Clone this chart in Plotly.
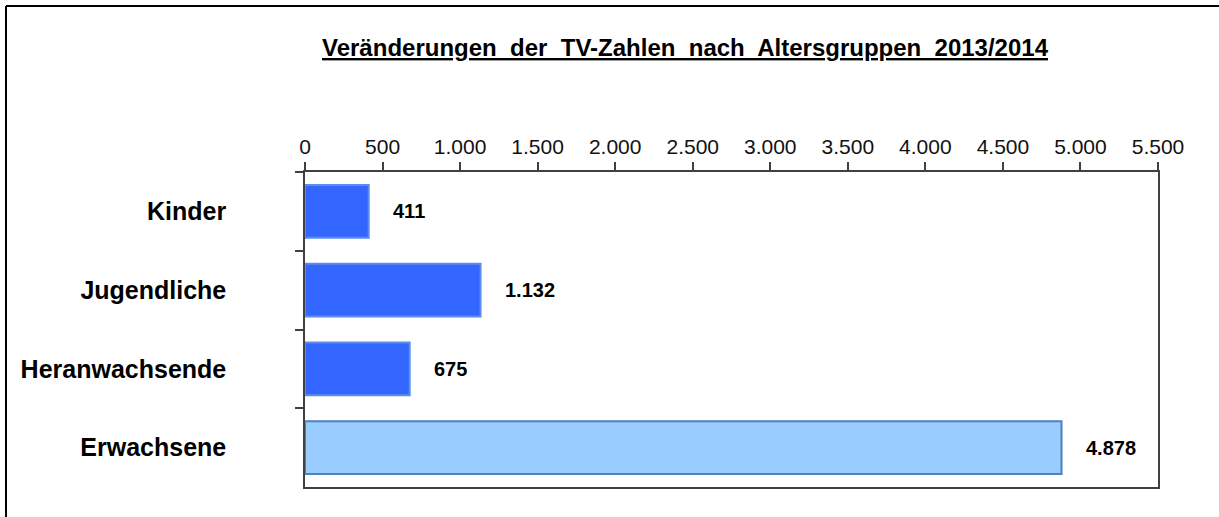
import plotly.graph_objects as go

gruppen = ['Kinder', 'Jugendliche', 'Heranwachsende', 'Erwachsene']
werte = [411, 1132, 675, 4878]
farben = ['#3366FF', '#3366FF', '#3366FF', '#99CCFF']
randfarben = ['#5B8DEF', '#5B8DEF', '#5B8DEF', '#4F81BD']
titel = 'Veränderungen  der  TV-Zahlen  nach  Altersgruppen  2013/2014'

W, H = 1219, 517
links, rechts, oben, unten = 305, 61, 172, 30
pw = W - links - rechts
ph = H - oben - unten

fig = go.Figure(go.Bar(
    x=werte, y=gruppen, orientation='h',
    marker=dict(color=farben, line=dict(color=randfarben, width=2)),
    hoverinfo='x+y',
))

# Datenbeschriftungen rechts neben den Balken
for g, v in zip(gruppen, werte):
    fig.add_annotation(x=v, y=g, text='<b>' + f'{v:,}'.replace(',', '.') + '</b>',
                       xanchor='left', yanchor='middle', xshift=22, showarrow=False,
                       font=dict(family='Liberation Sans, Arial', size=20, color='black'))

fig.add_annotation(xref='paper', yref='paper',
                   x=(685 - links) / pw, y=(H - unten - 47) / ph,
                   text='<b><u>' + titel + '</u></b>', showarrow=False,
                   xanchor='center', yanchor='middle',
                   font=dict(family='Liberation Sans, Arial', size=24, color='black'))

# äußerer Rahmen (links und oben)
x_rand = (6 - links) / pw
y_rand = (H - unten - 6) / ph
fig.add_shape(type='line', xref='paper', yref='paper', x0=x_rand, x1=x_rand,
              y0=y_rand, y1=-0.2, line=dict(color='black', width=2))
fig.add_shape(type='line', xref='paper', yref='paper', x0=x_rand, x1=(W - links) / pw + 0.05,
              y0=y_rand, y1=y_rand, line=dict(color='black', width=2))

fig.update_layout(
    width=W, height=H,
    margin=dict(l=links, r=rechts, t=oben, b=unten),
    paper_bgcolor='white', plot_bgcolor='white',
    separators=',.',
    bargap=0.33,
    showlegend=False,
    font=dict(family='Liberation Sans, Arial', color='black'),
)
fig.update_xaxes(side='top', range=[0, 5500], dtick=500, tickformat=',d',
                 showgrid=False, zeroline=False,
                 showline=True, linecolor='#404040', linewidth=1.5, mirror=True,
                 ticks='outside', ticklen=8, tickcolor='#404040', tickwidth=1.5,
                 tickfont=dict(size=21, color='#111111'))
fig.update_yaxes(autorange='reversed', showgrid=False, zeroline=False,
                 showline=True, linecolor='#404040', linewidth=1.5, mirror=True,
                 ticks='outside', ticklen=8, tickcolor='#404040', tickwidth=1.5,
                 tickson='boundaries', ticklabelstandoff=72,
                 tickfont=dict(size=25, color='black', weight='bold'))

fig.write_html('out.html', config={'displayModeBar': False},
               post_script="document.body.style.margin='0';")
